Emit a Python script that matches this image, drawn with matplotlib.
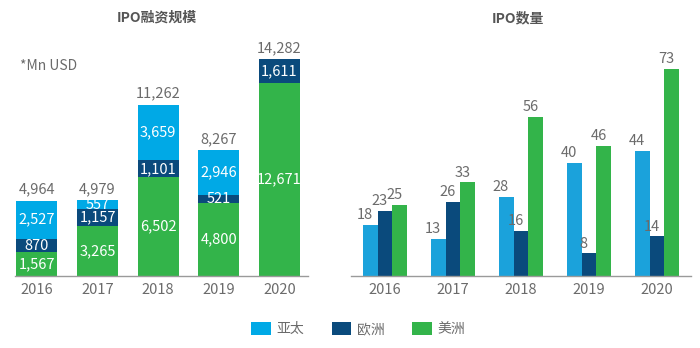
import matplotlib
matplotlib.use("Agg")
import matplotlib.pyplot as plt
from matplotlib.patches import Patch
import numpy as np

plt.rcParams['font.family'] = ['Noto Sans CJK SC', 'DejaVu Sans']

years = ["2016", "2017", "2018", "2019", "2020"]
regions = ["亚太", "欧洲", "美洲"]

# IPO proceeds (Mn USD), stacked bottom-to-top: 美洲, 欧洲, 亚太
amt_americas = [1567, 3265, 6502, 4800, 12671]
amt_europe = [870, 1157, 1101, 521, 1611]
amt_apac = [2527, 557, 3659, 2946, 0]

# IPO counts
cnt_apac = [18, 13, 28, 40, 44]
cnt_europe = [23, 26, 16, 8, 14]
cnt_americas = [25, 33, 56, 46, 73]

c_apac_l = "#00a9e6"
c_apac_r = "#1ba2db"
c_eu = "#0a4a7c"
c_am = "#33b44a"
gray = "#6b6b6b"

W, H = 700, 348
fig = plt.figure(figsize=(7, 3.48), dpi=100)

def px_axes(x0, x1, ytop, ybot):
    return fig.add_axes([x0 / W, 1 - ybot / H, (x1 - x0) / W, (ybot - ytop) / H])

def style(ax):
    for s in ["top", "right", "left"]:
        ax.spines[s].set_visible(False)
    ax.spines["bottom"].set_color("#9a9a9a")
    ax.spines["bottom"].set_linewidth(1.0)
    ax.set_yticks([])
    ax.tick_params(axis="x", length=0, labelsize=10.5, labelcolor=gray, pad=5)

# ---- left: stacked proceeds ----
axL = px_axes(15, 308, 40, 276)
x = np.arange(len(years))
w = 0.675
am = np.array(amt_americas)
eu = np.array(amt_europe)
ap = np.array(amt_apac)
axL.bar(x, am, w, color=c_am)
axL.bar(x, eu, w, bottom=am, color=c_eu)
axL.bar(x, ap, w, bottom=am + eu, color=c_apac_l)
axL.set_xlim(-0.36, 4.47)
axL.set_ylim(0, 15530)
axL.set_xticks(x)
axL.set_xticklabels(years)
style(axL)

for i in range(len(years)):
    segs = [(am[i], 0), (eu[i], am[i]), (ap[i], am[i] + eu[i])]
    for val, base in segs:
        if val > 0:
            axL.text(x[i], base + val / 2, f"{val:,}", ha="center", va="center",
                     color="white", fontsize=10.5)
    tot = am[i] + eu[i] + ap[i]
    axL.annotate(f"{tot:,}", (x[i], tot), xytext=(0, 3), textcoords="offset points",
                 ha="center", va="bottom", color=gray, fontsize=10.5)

fig.text(20 / W, 1 - 66 / H, "*Mn USD", ha="left", va="center", color=gray, fontsize=10)
fig.text(157 / W, 1 - 18 / H, "IPO融资规模", ha="center", va="center",
         color="#555555", fontsize=10, fontweight="bold")

# ---- right: grouped counts ----
axR = px_axes(351, 691, 40, 276)
bw = 0.22
series = [(cnt_apac, c_apac_r), (cnt_europe, c_eu), (cnt_americas, c_am)]
for k, (vals, col) in enumerate(series):
    pos = x + (k - 1) * bw
    axR.bar(pos, vals, bw, color=col)
    for p, v in zip(pos, vals):
        axR.annotate(f"{v}", (p, v), xytext=(-4, 2), textcoords="offset points",
                     ha="center", va="bottom", color=gray, fontsize=10.5)
axR.set_xlim(-0.5, 4.5)
axR.set_ylim(0, 83.2)
axR.set_xticks(x)
axR.set_xticklabels(years)
style(axR)

fig.text(518 / W, 1 - 18 / H, "IPO数量", ha="center", va="center",
         color="#555555", fontsize=10, fontweight="bold")

# ---- legend ----
handles = [Patch(facecolor=c_apac_l), Patch(facecolor=c_eu), Patch(facecolor=c_am)]
fig.legend(handles, regions, ncol=3, loc="center", bbox_to_anchor=(358 / W, 1 - 329 / H),
           frameon=False, fontsize=10, handlelength=1.4, handleheight=1.1,
           columnspacing=2.0, handletextpad=0.4, labelcolor=gray)

fig.savefig("out.png", dpi=100, facecolor="white")
